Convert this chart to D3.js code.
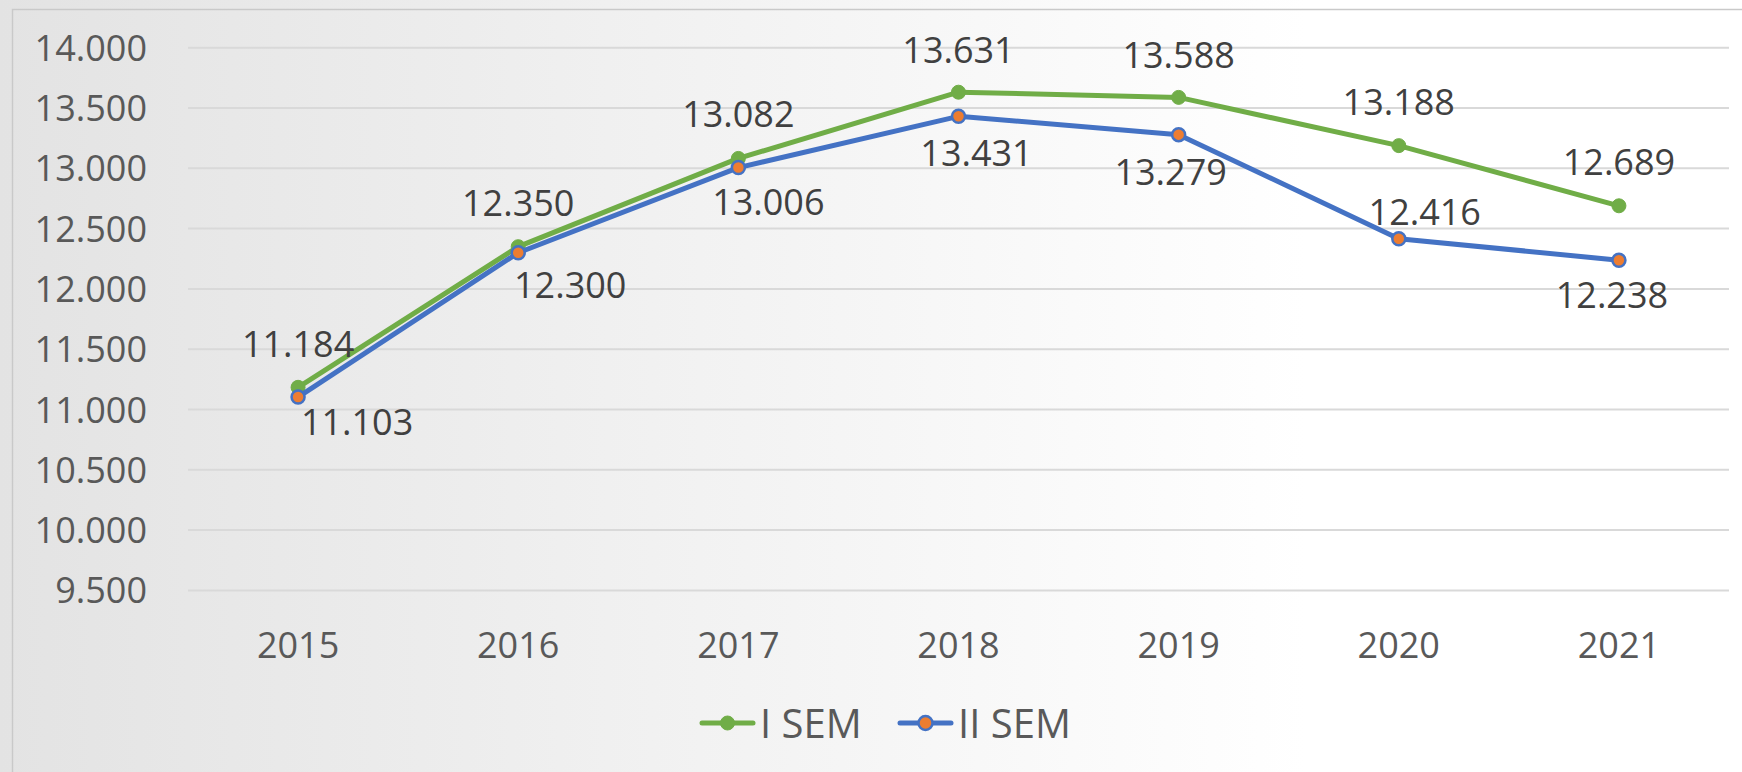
<!DOCTYPE html>
<html>
<head>
<meta charset="utf-8">
<script src="https://cdn.jsdelivr.net/npm/d3@7"></script>
<style>
  html, body { margin: 0; padding: 0; }
  body { width: 1742px; height: 772px; overflow: hidden; }
  text { font-family: "Open Sans", sans-serif; }
</style>
</head>
<body>
<div id="chart"></div>
<script>
var years = ["2015", "2016", "2017", "2018", "2019", "2020", "2021"];
var semI = [11184, 12350, 13082, 13631, 13588, 13188, 12689];
var semII = [11103, 12300, 13006, 13431, 13279, 12416, 12238];
var yTicks = [9500, 10000, 10500, 11000, 11500, 12000, 12500, 13000, 13500, 14000];
var seriesNames = ["I SEM", "II SEM"];

// label nudges (dx, dy from the point), placed like the original
var offI = [[0, -30], [0, -31], [0, -31], [0, -29], [0, -29], [0, -31], [0, -31]];
var offII = [[59, 38], [52, 45], [30, 47], [18, 50], [-8, 50], [26, -14], [-7, 48]];

var W = 1742, H = 772;
var green = "#70AD47", blue = "#4472C4", orange = "#ED7D31";

var svg = d3.select("#chart").append("svg")
    .attr("width", W)
    .attr("height", H);

var grad = svg.append("defs").append("linearGradient")
    .attr("id", "bg")
    .attr("x1", "0%").attr("x2", "100%").attr("y1", "0%").attr("y2", "0%");
grad.append("stop").attr("offset", "0%").attr("stop-color", "#e3e3e3");
grad.append("stop").attr("offset", "75%").attr("stop-color", "#ffffff");
grad.append("stop").attr("offset", "100%").attr("stop-color", "#ffffff");

svg.append("rect").attr("width", W).attr("height", H).attr("fill", "url(#bg)");
svg.append("rect")
    .attr("x", 12.5).attr("y", 9.5)
    .attr("width", W + 20).attr("height", H + 20)
    .attr("fill", "none")
    .attr("stroke", "#c9c9c9")
    .attr("stroke-width", 1.5);

var x = d3.scaleBand().domain(years).range([188, 1729]).padding(0);
var y = d3.scaleLinear().domain([9500, 14000]).range([590.4, 47.7]);
var cx = function (d) { return x(d) + x.bandwidth() / 2; };

var fmt = d3.formatLocale({decimal: ",", thousands: ".", grouping: [3], currency: ["", "€"]}).format(",d");

// gridlines
svg.append("g").selectAll("line")
    .data(yTicks)
    .enter()
    .append("line")
    .attr("x1", 188).attr("x2", 1729)
    .attr("y1", function (d) { return y(d); })
    .attr("y2", function (d) { return y(d); })
    .attr("stroke", "#d9d9d9")
    .attr("stroke-width", 2);

// y labels
svg.append("g").selectAll("text")
    .data(yTicks)
    .enter()
    .append("text")
    .attr("x", 147)
    .attr("y", function (d) { return y(d) + 13; })
    .attr("text-anchor", "end")
    .attr("font-size", 36)
    .attr("fill", "#595959")
    .text(function (d) { return fmt(d); });

// x labels
svg.append("g").selectAll("text")
    .data(years)
    .enter()
    .append("text")
    .attr("x", cx)
    .attr("y", 658)
    .attr("text-anchor", "middle")
    .attr("font-size", 36)
    .attr("fill", "#595959")
    .text(function (d) { return d; });

function drawSeries(vals, stroke, fill, r, sw) {
    var pts = years.map(function (yr, i) { return [cx(yr), y(vals[i])]; });
    svg.append("path")
        .attr("d", d3.line()(pts))
        .attr("fill", "none")
        .attr("stroke", stroke)
        .attr("stroke-width", 5)
        .attr("stroke-linejoin", "round")
        .attr("stroke-linecap", "round");
    svg.append("g").selectAll("circle")
        .data(pts)
        .enter()
        .append("circle")
        .attr("cx", function (d) { return d[0]; })
        .attr("cy", function (d) { return d[1]; })
        .attr("r", r)
        .attr("fill", fill)
        .attr("stroke", stroke)
        .attr("stroke-width", sw);
}

drawSeries(semI, green, green, 7, 1);
drawSeries(semII, blue, orange, 6.5, 2.5);

function drawLabels(vals, offs) {
    svg.append("g").selectAll("text")
        .data(vals)
        .enter()
        .append("text")
        .attr("x", function (d, i) { return cx(years[i]) + offs[i][0]; })
        .attr("y", function (d, i) { return y(d) + offs[i][1]; })
        .attr("text-anchor", "middle")
        .attr("font-size", 36)
        .attr("fill", "#404040")
        .text(function (d) { return fmt(d); });
}

drawLabels(semI, offI);
drawLabels(semII, offII);

// legend
var legend = [
    {name: seriesNames[0], x: 700, stroke: green, fill: green, sw: 1},
    {name: seriesNames[1], x: 898, stroke: blue, fill: orange, sw: 2.5}
];
var lg = svg.append("g").selectAll("g")
    .data(legend)
    .enter()
    .append("g")
    .attr("transform", function (d) { return "translate(" + d.x + ",723)"; });
lg.append("line")
    .attr("x1", 2).attr("x2", 53)
    .attr("stroke", function (d) { return d.stroke; })
    .attr("stroke-width", 5)
    .attr("stroke-linecap", "round");
lg.append("circle")
    .attr("cx", 27.5).attr("r", 7)
    .attr("fill", function (d) { return d.fill; })
    .attr("stroke", function (d) { return d.stroke; })
    .attr("stroke-width", function (d) { return d.sw; });
lg.append("text")
    .attr("x", 60)
    .attr("y", 15)
    .attr("font-size", 40)
    .attr("fill", "#595959")
    .text(function (d) { return d.name; });
</script>
</body>
</html>
